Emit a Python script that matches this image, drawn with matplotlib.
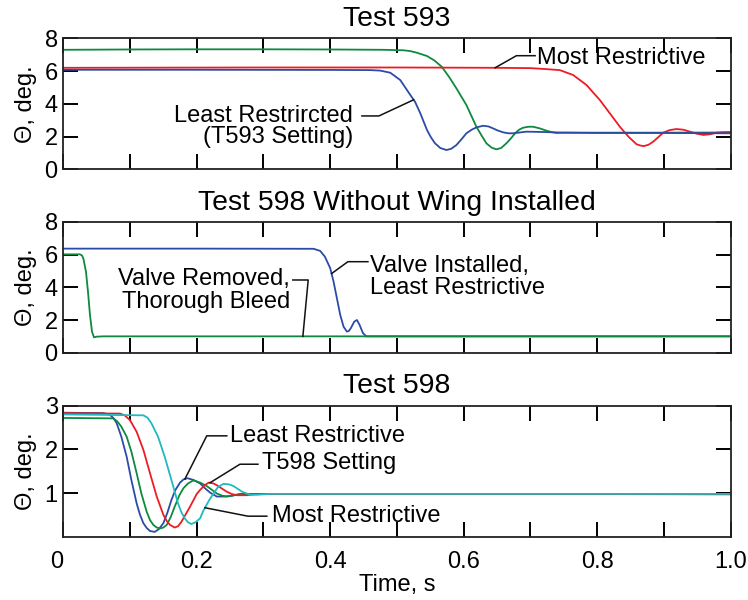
import numpy as np
import matplotlib
matplotlib.use("Agg")
import matplotlib.pyplot as plt
from matplotlib.ticker import MultipleLocator

plt.rcParams['font.family'] = ['Liberation Sans', 'DejaVu Sans']
plt.rcParams['font.size'] = 17

BLUE = '#2c4ba6'
GREEN = '#0d8a3f'
RED = '#ec1c24'
CYAN = '#1fb9bf'

# ---- Test 593 ----
t593_green_t = [0, 0.1, 0.2, 0.3, 0.4, 0.48, 0.51, 0.52, 0.53, 0.545, 0.556, 0.567, 0.578,
                0.589, 0.604, 0.619, 0.627, 0.634, 0.642, 0.649, 0.656, 0.664, 0.671, 0.677,
                0.683, 0.689, 0.697, 0.704, 0.714, 0.724, 0.732, 0.739, 0.75, 0.8, 0.9, 1.0]
t593_green_v = [7.3, 7.32, 7.33, 7.33, 7.32, 7.3, 7.27, 7.22, 7.12, 6.92, 6.65, 6.27, 5.65,
                4.95, 3.93, 2.6, 2.05, 1.59, 1.32, 1.22, 1.3, 1.59, 1.9, 2.2,
                2.42, 2.54, 2.6, 2.6, 2.5, 2.36, 2.27, 2.22, 2.24, 2.24, 2.24, 2.25]

t593_blue_t = [0, 0.2, 0.4, 0.46, 0.475, 0.49, 0.505, 0.52, 0.527, 0.535, 0.545, 0.551,
               0.557, 0.565, 0.574, 0.581, 0.589, 0.597, 0.604, 0.612, 0.619, 0.629, 0.637,
               0.644, 0.651, 0.659, 0.667, 0.674, 0.684, 0.694, 0.719, 0.75, 0.8, 0.9, 1.0]
t593_blue_v = [6.08, 6.08, 6.07, 6.06, 6.03, 5.9, 5.45, 4.54, 4.13, 3.42, 2.4, 1.95,
               1.59, 1.3, 1.18, 1.25, 1.48, 1.85, 2.2, 2.42, 2.56, 2.66, 2.62,
               2.5, 2.37, 2.26, 2.2, 2.2, 2.25, 2.3, 2.28, 2.24, 2.22, 2.22, 2.2]

t593_red_t = [0, 0.3, 0.5, 0.65, 0.7, 0.72, 0.744, 0.764, 0.784, 0.804, 0.819, 0.834, 0.847,
              0.859, 0.865, 0.87, 0.877, 0.884, 0.892, 0.899, 0.909, 0.919, 0.929, 0.939,
              0.949, 0.959, 0.969, 0.979, 0.99, 1.0]
t593_red_v = [6.2, 6.22, 6.22, 6.2, 6.18, 6.13, 6.06, 5.76, 5.15, 4.23, 3.42, 2.6, 1.99,
              1.53, 1.45, 1.42, 1.5, 1.69, 1.98, 2.24, 2.4, 2.46, 2.42, 2.3,
              2.18, 2.1, 2.14, 2.24, 2.27, 2.28]

# ---- Test 598 without wing ----
t598w_blue_t = [0, 0.2, 0.375, 0.385, 0.392, 0.4, 0.405, 0.41, 0.415, 0.42, 0.425, 0.428,
                0.431, 0.436, 0.44, 0.444, 0.449, 0.454, 0.46, 1.0]
t598w_blue_v = [6.37, 6.37, 6.36, 6.23, 5.88, 5.17, 4.35, 3.33, 2.31, 1.59, 1.29, 1.33,
                1.51, 1.9, 2.0, 1.7, 1.2, 1.0, 1.0, 1.0]

t598w_green_t = [0, 0.025, 0.028, 0.03, 0.034, 0.037, 0.04, 0.043, 0.046, 0.05, 0.06, 1.0]
t598w_green_v = [6.02, 6.02, 5.95, 5.78, 4.96, 3.74, 2.31, 1.29, 0.94, 0.98, 1.0, 1.0]

# ---- Test 598 ----
t598_blue_t = [0, 0.06, 0.07, 0.075, 0.08, 0.087, 0.095, 0.102, 0.11, 0.115, 0.12, 0.125,
               0.13, 0.137, 0.143, 0.15, 0.156, 0.162, 0.168, 0.175, 0.18, 0.186, 0.195,
               0.205, 0.213, 0.22, 0.23, 0.24, 0.25, 0.265, 0.3, 0.5, 0.7, 1.0]
t598_blue_v = [2.84, 2.83, 2.79, 2.72, 2.6, 2.29, 1.83, 1.3, 0.76, 0.5, 0.31, 0.2,
               0.13, 0.11, 0.17, 0.31, 0.55, 0.84, 1.07, 1.24, 1.31, 1.34, 1.3,
               1.22, 1.1, 1.01, 0.92, 0.92, 0.93, 0.98, 0.98, 0.98, 0.98, 0.97]

t598_green_t = [0, 0.075, 0.081, 0.087, 0.095, 0.102, 0.11, 0.117, 0.125, 0.13, 0.135, 0.14,
                0.145, 0.15, 0.155, 0.161, 0.167, 0.174, 0.18, 0.187, 0.195, 0.205, 0.215,
                0.223, 0.23, 0.238, 0.245, 0.26, 0.28, 1.0]
t598_green_v = [2.72, 2.71, 2.64, 2.52, 2.29, 1.95, 1.45, 0.99, 0.57, 0.38, 0.27, 0.21,
                0.19, 0.21, 0.27, 0.45, 0.69, 0.95, 1.11, 1.22, 1.29, 1.24, 1.16,
                1.07, 0.99, 0.94, 0.92, 0.96, 0.98, 0.98]

t598_red_t = [0, 0.085, 0.092, 0.1, 0.11, 0.12, 0.13, 0.14, 0.15, 0.155, 0.16, 0.167,
              0.172, 0.177, 0.183, 0.19, 0.2, 0.205, 0.212, 0.218, 0.225, 0.23, 0.238,
              0.245, 0.252, 0.26, 0.275, 0.29, 1.0]
t598_red_v = [2.83, 2.82, 2.78, 2.67, 2.4, 1.99, 1.45, 0.92, 0.5, 0.36, 0.27, 0.21,
              0.24, 0.34, 0.5, 0.69, 0.98, 1.07, 1.18, 1.24, 1.22, 1.18, 1.1,
              1.03, 0.98, 0.95, 0.95, 0.98, 0.98]

t598_cyan_t = [0, 0.12, 0.126, 0.132, 0.142, 0.152, 0.162, 0.172, 0.177, 0.182, 0.187, 0.192,
               0.198, 0.205, 0.21, 0.218, 0.225, 0.232, 0.24, 0.248, 0.255, 0.262, 0.268,
               0.28, 0.29, 0.31, 1.0]
t598_cyan_v = [2.8, 2.78, 2.73, 2.6, 2.29, 1.83, 1.3, 0.76, 0.56, 0.42, 0.33, 0.29,
               0.33, 0.42, 0.6, 0.82, 0.99, 1.14, 1.21, 1.2, 1.16, 1.09, 1.03,
               0.96, 0.96, 0.98, 0.98]

x_ticks = [0, 0.2, 0.4, 0.6, 0.8, 1.0]
x_ticklabels = ['0', '0.2', '0.4', '0.6', '0.8', '1.0']

fig = plt.figure(figsize=(7.48, 6.0), dpi=100)
left, width = 0.0846, 0.8922
ax1 = fig.add_axes([left, 0.7178, width, 0.2183])
ax2 = fig.add_axes([left, 0.4122, width, 0.2178])
ax3 = fig.add_axes([left, 0.1055, width, 0.2183])


def style(ax, yticks, title, show_x):
    ax.set_xlim(0, 1.0)
    ax.set_ylim(0, yticks[-1])
    ax.set_xticks(x_ticks, x_ticklabels if show_x else [''] * len(x_ticks))
    ax.xaxis.set_minor_locator(MultipleLocator(0.1))
    ax.set_yticks(yticks)
    for s in ax.spines.values():
        s.set_linewidth(1.3)
        s.set_color('#222222')
    ax.set_title(title, pad=9)
    ax.set_ylabel('\u0398, deg.')
    ax.yaxis.set_label_coords(-0.04, 0.5)
    # long inward ticks on all four sides
    ax.tick_params(axis='x', which='both', direction='in', top=True, bottom=True,
                   length=11, width=1.4, color='black', pad=10)
    ax.tick_params(axis='y', which='both', direction='in', left=True, right=True,
                   length=11, width=1.4, color='black', pad=4)


def leader(ax, tx, ty, ex, ey, curve_t, curve_v, ct):
    # text end -> elbow -> point on curve
    cv = np.interp(ct, curve_t, curve_v)
    ax.plot([tx, ex, ct], [ty, ey, cv], color='#111111', lw=1.1)


style(ax1, [0, 2, 4, 6, 8], 'Test 593', False)
style(ax2, [0, 2, 4, 6, 8], 'Test 598 Without Wing Installed', False)
style(ax3, [1, 2, 3], 'Test 598', True)
ax3.xaxis.get_majorticklabels()[0].set_horizontalalignment('right')
ax3.set_xlabel('Time, s', labelpad=1)

# Test 593
ax1.plot(t593_green_t, t593_green_v, color=GREEN, lw=1.3)
ax1.plot(t593_red_t, t593_red_v, color=RED, lw=1.3)
ax1.plot(t593_blue_t, t593_blue_v, color=BLUE, lw=1.3)
ax1.text(0.434, 2.61, 'Least Restrircted\n(T593 Setting)', ha='right', va='center',
         multialignment='right', linespacing=0.95)
leader(ax1, 0.4475, 3.26, 0.473, 3.26, t593_blue_t, t593_blue_v, 0.525)
ax1.text(0.7097, 6.82, 'Most Restrictive', ha='left', va='center')
leader(ax1, 0.707, 6.94, 0.679, 6.94, t593_red_t, t593_red_v, 0.647)

# Test 598 without wing
ax2.plot(t598w_blue_t, t598w_blue_v, color=BLUE, lw=1.3)
ax2.plot(t598w_green_t, t598w_green_v, color=GREEN, lw=1.3)
ax2.text(0.340, 3.81, 'Valve Removed,\nThorough Bleed', ha='right', va='center',
         multialignment='right', linespacing=1.05)
leader(ax2, 0.344, 4.45, 0.367, 4.45, t598w_green_t, t598w_green_v, 0.359)
ax2.text(0.4595, 4.64, 'Valve Installed,\nLeast Restrictive', ha='left', va='center',
         multialignment='left', linespacing=1.0)
leader(ax2, 0.4565, 5.57, 0.4265, 5.57, t598w_blue_t, t598w_blue_v, 0.402)

# Test 598
ax3.plot(t598_blue_t, t598_blue_v, color=BLUE, lw=1.3)
ax3.plot(t598_green_t, t598_green_v, color=GREEN, lw=1.3)
ax3.plot(t598_red_t, t598_red_v, color=RED, lw=1.3)
ax3.plot(t598_cyan_t, t598_cyan_v, color=CYAN, lw=1.3)
ax3.text(0.2497, 2.31, 'Least Restrictive', ha='left', va='center')
leader(ax3, 0.245, 2.31, 0.215, 2.31, t598_blue_t, t598_blue_v, 0.1823)
ax3.text(0.2973, 1.69, 'T598 Setting', ha='left', va='center')
leader(ax3, 0.2917, 1.66, 0.2647, 1.66, t598_red_t, t598_red_v, 0.2198)
ax3.text(0.3123, 0.47, 'Most Restrictive', ha='left', va='center')
leader(ax3, 0.305, 0.47, 0.2767, 0.47, t598_cyan_t, t598_cyan_v, 0.2123)

fig.savefig('out.png', dpi=100)
